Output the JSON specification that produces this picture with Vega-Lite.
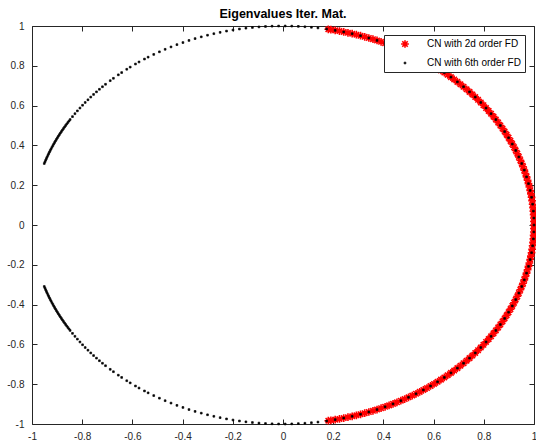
{
  "$schema": "https://vega.github.io/schema/vega-lite/v6.json",
  "width": 502,
  "height": 398,
  "autosize": {"type": "none"},
  "padding": {"left": 32, "top": 26, "right": 2, "bottom": 21},
  "background": "#ffffff",
  "title": {"text": "Eigenvalues Iter. Mat.", "font": "Liberation Sans", "fontSize": 12.5, "fontWeight": "bold", "color": "#000000", "anchor": "middle", "offset": 1},
  "config": {
    "view": {"stroke": null},
    "axis": {"domainColor": "#262626", "domainWidth": 1, "tickColor": "#262626", "tickWidth": 1, "tickSize": -5, "labelFont": "Liberation Sans", "labelFontSize": 10, "labelColor": "#262626", "grid": false, "title": null, "labelPadding": 12, "labelFlush": false, "labelOverlap": false}
  },
  "data": {"values": [
    {"s":"2d","x":1,"y":0},{"s":"2d","x":0.9998,"y":0.0175},{"s":"2d","x":0.9994,"y":0.0349},{"s":"2d","x":0.9986,"y":0.0523},{"s":"2d","x":0.9976,"y":0.0698},{"s":"2d","x":0.9962,"y":0.0872},{"s":"2d","x":0.9945,"y":0.1045},{"s":"2d","x":0.9925,"y":0.1219},{"s":"2d","x":0.9903,"y":0.1392},{"s":"2d","x":0.9877,"y":0.1564},
    {"s":"2d","x":0.9848,"y":0.1736},{"s":"2d","x":0.9816,"y":0.1908},{"s":"2d","x":0.9781,"y":0.2079},{"s":"2d","x":0.9744,"y":0.2250},{"s":"2d","x":0.9703,"y":0.2419},{"s":"2d","x":0.9659,"y":0.2588},{"s":"2d","x":0.9613,"y":0.2756},{"s":"2d","x":0.9563,"y":0.2924},{"s":"2d","x":0.9511,"y":0.3090},{"s":"2d","x":0.9455,"y":0.3256},
    {"s":"2d","x":0.9397,"y":0.3420},{"s":"2d","x":0.9336,"y":0.3584},{"s":"2d","x":0.9272,"y":0.3746},{"s":"2d","x":0.9205,"y":0.3907},{"s":"2d","x":0.9135,"y":0.4067},{"s":"2d","x":0.9063,"y":0.4226},{"s":"2d","x":0.8988,"y":0.4384},{"s":"2d","x":0.8910,"y":0.4540},{"s":"2d","x":0.8829,"y":0.4695},{"s":"2d","x":0.8746,"y":0.4848},
    {"s":"2d","x":0.8660,"y":0.5},{"s":"2d","x":0.8572,"y":0.5150},{"s":"2d","x":0.8480,"y":0.5299},{"s":"2d","x":0.8387,"y":0.5446},{"s":"2d","x":0.8290,"y":0.5592},{"s":"2d","x":0.8192,"y":0.5736},{"s":"2d","x":0.8090,"y":0.5878},{"s":"2d","x":0.7986,"y":0.6018},{"s":"2d","x":0.7880,"y":0.6157},{"s":"2d","x":0.7771,"y":0.6293},
    {"s":"2d","x":0.7660,"y":0.6428},{"s":"2d","x":0.7547,"y":0.6561},{"s":"2d","x":0.7431,"y":0.6691},{"s":"2d","x":0.7314,"y":0.6820},{"s":"2d","x":0.7193,"y":0.6947},{"s":"2d","x":0.7071,"y":0.7071},{"s":"2d","x":0.6947,"y":0.7193},{"s":"2d","x":0.6820,"y":0.7314},{"s":"2d","x":0.6691,"y":0.7431},{"s":"2d","x":0.6561,"y":0.7547},
    {"s":"2d","x":0.6428,"y":0.7660},{"s":"2d","x":0.6293,"y":0.7771},{"s":"2d","x":0.6157,"y":0.7880},{"s":"2d","x":0.6018,"y":0.7986},{"s":"2d","x":0.5878,"y":0.8090},{"s":"2d","x":0.5736,"y":0.8192},{"s":"2d","x":0.5592,"y":0.8290},{"s":"2d","x":0.5446,"y":0.8387},{"s":"2d","x":0.5299,"y":0.8480},{"s":"2d","x":0.5150,"y":0.8572},
    {"s":"2d","x":0.5,"y":0.8660},{"s":"2d","x":0.4848,"y":0.8746},{"s":"2d","x":0.4695,"y":0.8829},{"s":"2d","x":0.4540,"y":0.8910},{"s":"2d","x":0.4384,"y":0.8988},{"s":"2d","x":0.4226,"y":0.9063},{"s":"2d","x":0.4067,"y":0.9135},{"s":"2d","x":0.3907,"y":0.9205},{"s":"2d","x":0.3746,"y":0.9272},{"s":"2d","x":0.3584,"y":0.9336},
    {"s":"2d","x":0.3420,"y":0.9397},{"s":"2d","x":0.3256,"y":0.9455},{"s":"2d","x":0.3090,"y":0.9511},{"s":"2d","x":0.2924,"y":0.9563},{"s":"2d","x":0.2756,"y":0.9613},{"s":"2d","x":0.2588,"y":0.9659},{"s":"2d","x":0.2419,"y":0.9703},{"s":"2d","x":0.2250,"y":0.9744},{"s":"2d","x":0.2079,"y":0.9781},{"s":"2d","x":0.1908,"y":0.9816},{"s":"2d","x":0.1805,"y":0.9835},
    {"s":"2d","x":0.9998,"y":-0.0175},{"s":"2d","x":0.9994,"y":-0.0349},{"s":"2d","x":0.9986,"y":-0.0523},{"s":"2d","x":0.9976,"y":-0.0698},{"s":"2d","x":0.9962,"y":-0.0872},{"s":"2d","x":0.9945,"y":-0.1045},{"s":"2d","x":0.9925,"y":-0.1219},{"s":"2d","x":0.9903,"y":-0.1392},{"s":"2d","x":0.9877,"y":-0.1564},
    {"s":"2d","x":0.9848,"y":-0.1736},{"s":"2d","x":0.9816,"y":-0.1908},{"s":"2d","x":0.9781,"y":-0.2079},{"s":"2d","x":0.9744,"y":-0.2250},{"s":"2d","x":0.9703,"y":-0.2419},{"s":"2d","x":0.9659,"y":-0.2588},{"s":"2d","x":0.9613,"y":-0.2756},{"s":"2d","x":0.9563,"y":-0.2924},{"s":"2d","x":0.9511,"y":-0.3090},{"s":"2d","x":0.9455,"y":-0.3256},
    {"s":"2d","x":0.9397,"y":-0.3420},{"s":"2d","x":0.9336,"y":-0.3584},{"s":"2d","x":0.9272,"y":-0.3746},{"s":"2d","x":0.9205,"y":-0.3907},{"s":"2d","x":0.9135,"y":-0.4067},{"s":"2d","x":0.9063,"y":-0.4226},{"s":"2d","x":0.8988,"y":-0.4384},{"s":"2d","x":0.8910,"y":-0.4540},{"s":"2d","x":0.8829,"y":-0.4695},{"s":"2d","x":0.8746,"y":-0.4848},
    {"s":"2d","x":0.8660,"y":-0.5},{"s":"2d","x":0.8572,"y":-0.5150},{"s":"2d","x":0.8480,"y":-0.5299},{"s":"2d","x":0.8387,"y":-0.5446},{"s":"2d","x":0.8290,"y":-0.5592},{"s":"2d","x":0.8192,"y":-0.5736},{"s":"2d","x":0.8090,"y":-0.5878},{"s":"2d","x":0.7986,"y":-0.6018},{"s":"2d","x":0.7880,"y":-0.6157},{"s":"2d","x":0.7771,"y":-0.6293},
    {"s":"2d","x":0.7660,"y":-0.6428},{"s":"2d","x":0.7547,"y":-0.6561},{"s":"2d","x":0.7431,"y":-0.6691},{"s":"2d","x":0.7314,"y":-0.6820},{"s":"2d","x":0.7193,"y":-0.6947},{"s":"2d","x":0.7071,"y":-0.7071},{"s":"2d","x":0.6947,"y":-0.7193},{"s":"2d","x":0.6820,"y":-0.7314},{"s":"2d","x":0.6691,"y":-0.7431},{"s":"2d","x":0.6561,"y":-0.7547},
    {"s":"2d","x":0.6428,"y":-0.7660},{"s":"2d","x":0.6293,"y":-0.7771},{"s":"2d","x":0.6157,"y":-0.7880},{"s":"2d","x":0.6018,"y":-0.7986},{"s":"2d","x":0.5878,"y":-0.8090},{"s":"2d","x":0.5736,"y":-0.8192},{"s":"2d","x":0.5592,"y":-0.8290},{"s":"2d","x":0.5446,"y":-0.8387},{"s":"2d","x":0.5299,"y":-0.8480},{"s":"2d","x":0.5150,"y":-0.8572},
    {"s":"2d","x":0.5,"y":-0.8660},{"s":"2d","x":0.4848,"y":-0.8746},{"s":"2d","x":0.4695,"y":-0.8829},{"s":"2d","x":0.4540,"y":-0.8910},{"s":"2d","x":0.4384,"y":-0.8988},{"s":"2d","x":0.4226,"y":-0.9063},{"s":"2d","x":0.4067,"y":-0.9135},{"s":"2d","x":0.3907,"y":-0.9205},{"s":"2d","x":0.3746,"y":-0.9272},{"s":"2d","x":0.3584,"y":-0.9336},
    {"s":"2d","x":0.3420,"y":-0.9397},{"s":"2d","x":0.3256,"y":-0.9455},{"s":"2d","x":0.3090,"y":-0.9511},{"s":"2d","x":0.2924,"y":-0.9563},{"s":"2d","x":0.2756,"y":-0.9613},{"s":"2d","x":0.2588,"y":-0.9659},{"s":"2d","x":0.2419,"y":-0.9703},{"s":"2d","x":0.2250,"y":-0.9744},{"s":"2d","x":0.2079,"y":-0.9781},{"s":"2d","x":0.1908,"y":-0.9816},{"s":"2d","x":0.1805,"y":-0.9835},

    {"s":"6th","x":1,"y":0},{"s":"6th","x":0.9994,"y":0.0349},{"s":"6th","x":0.9976,"y":0.0698},{"s":"6th","x":0.9945,"y":0.1045},{"s":"6th","x":0.9903,"y":0.1392},{"s":"6th","x":0.9848,"y":0.1736},{"s":"6th","x":0.9781,"y":0.2079},{"s":"6th","x":0.9703,"y":0.2419},{"s":"6th","x":0.9613,"y":0.2756},{"s":"6th","x":0.9511,"y":0.3090},
    {"s":"6th","x":0.9397,"y":0.3420},{"s":"6th","x":0.9272,"y":0.3746},{"s":"6th","x":0.9135,"y":0.4067},{"s":"6th","x":0.8988,"y":0.4384},{"s":"6th","x":0.8829,"y":0.4695},{"s":"6th","x":0.8660,"y":0.5},{"s":"6th","x":0.8480,"y":0.5299},{"s":"6th","x":0.8290,"y":0.5592},{"s":"6th","x":0.8090,"y":0.5878},{"s":"6th","x":0.7880,"y":0.6157},
    {"s":"6th","x":0.7660,"y":0.6428},{"s":"6th","x":0.7431,"y":0.6691},{"s":"6th","x":0.7193,"y":0.6947},{"s":"6th","x":0.6947,"y":0.7193},{"s":"6th","x":0.6691,"y":0.7431},{"s":"6th","x":0.6428,"y":0.7660},{"s":"6th","x":0.6157,"y":0.7880},{"s":"6th","x":0.5878,"y":0.8090},{"s":"6th","x":0.5592,"y":0.8290},{"s":"6th","x":0.5299,"y":0.8480},
    {"s":"6th","x":0.5,"y":0.8660},{"s":"6th","x":0.4695,"y":0.8829},{"s":"6th","x":0.4384,"y":0.8988},{"s":"6th","x":0.4067,"y":0.9135},{"s":"6th","x":0.3746,"y":0.9272},{"s":"6th","x":0.3420,"y":0.9397},{"s":"6th","x":0.3090,"y":0.9511},{"s":"6th","x":0.2756,"y":0.9613},{"s":"6th","x":0.2419,"y":0.9703},{"s":"6th","x":0.2079,"y":0.9781},
    {"s":"6th","x":0.1736,"y":0.9848},{"s":"6th","x":0.1392,"y":0.9903},{"s":"6th","x":0.1132,"y":0.9935},{"s":"6th","x":0.0872,"y":0.9962},{"s":"6th","x":0.0611,"y":0.9981},{"s":"6th","x":0.0349,"y":0.9994},{"s":"6th","x":0.0087,"y":1},{"s":"6th","x":-0.0175,"y":0.9998},{"s":"6th","x":-0.0436,"y":0.9990},{"s":"6th","x":-0.0698,"y":0.9976},
    {"s":"6th","x":-0.0958,"y":0.9954},{"s":"6th","x":-0.1219,"y":0.9925},{"s":"6th","x":-0.1478,"y":0.9890},{"s":"6th","x":-0.1736,"y":0.9848},{"s":"6th","x":-0.1994,"y":0.9799},{"s":"6th","x":-0.2250,"y":0.9744},{"s":"6th","x":-0.2504,"y":0.9681},{"s":"6th","x":-0.2756,"y":0.9613},{"s":"6th","x":-0.3007,"y":0.9537},{"s":"6th","x":-0.3256,"y":0.9455},
    {"s":"6th","x":-0.3502,"y":0.9367},{"s":"6th","x":-0.3746,"y":0.9272},{"s":"6th","x":-0.3987,"y":0.9170},{"s":"6th","x":-0.4226,"y":0.9063},{"s":"6th","x":-0.4462,"y":0.8949},{"s":"6th","x":-0.4695,"y":0.8829},{"s":"6th","x":-0.4924,"y":0.8703},{"s":"6th","x":-0.5150,"y":0.8572},{"s":"6th","x":-0.5373,"y":0.8434},{"s":"6th","x":-0.5519,"y":0.8339},
    {"s":"6th","x":-0.5736,"y":0.8192},{"s":"6th","x":-0.5878,"y":0.8090},{"s":"6th","x":-0.6087,"y":0.7933},{"s":"6th","x":-0.6225,"y":0.7826},{"s":"6th","x":-0.6428,"y":0.7660},{"s":"6th","x":-0.6561,"y":0.7547},{"s":"6th","x":-0.6756,"y":0.7372},{"s":"6th","x":-0.6883,"y":0.7253},{"s":"6th","x":-0.7071,"y":0.7071},{"s":"6th","x":-0.7193,"y":0.6947},
    {"s":"6th","x":-0.7314,"y":0.6820},{"s":"6th","x":-0.7431,"y":0.6691},{"s":"6th","x":-0.7547,"y":0.6561},{"s":"6th","x":-0.7660,"y":0.6428},{"s":"6th","x":-0.7771,"y":0.6293},{"s":"6th","x":-0.7880,"y":0.6157},{"s":"6th","x":-0.7986,"y":0.6018},{"s":"6th","x":-0.8090,"y":0.5878},{"s":"6th","x":-0.8192,"y":0.5736},{"s":"6th","x":-0.8290,"y":0.5592},
    {"s":"6th","x":-0.8387,"y":0.5446},{"s":"6th","x":-0.8480,"y":0.5299},{"s":"6th","x":-0.8526,"y":0.5225},{"s":"6th","x":-0.8572,"y":0.5150},{"s":"6th","x":-0.8616,"y":0.5075},{"s":"6th","x":-0.8660,"y":0.5},{"s":"6th","x":-0.8703,"y":0.4924},{"s":"6th","x":-0.8746,"y":0.4848},{"s":"6th","x":-0.8788,"y":0.4771},{"s":"6th","x":-0.8829,"y":0.4695},
    {"s":"6th","x":-0.8870,"y":0.4617},{"s":"6th","x":-0.8910,"y":0.4540},{"s":"6th","x":-0.8949,"y":0.4462},{"s":"6th","x":-0.8988,"y":0.4384},{"s":"6th","x":-0.9026,"y":0.4305},{"s":"6th","x":-0.9063,"y":0.4226},{"s":"6th","x":-0.9099,"y":0.4147},{"s":"6th","x":-0.9135,"y":0.4067},{"s":"6th","x":-0.9170,"y":0.3987},{"s":"6th","x":-0.9205,"y":0.3907},
    {"s":"6th","x":-0.9238,"y":0.3827},{"s":"6th","x":-0.9272,"y":0.3746},{"s":"6th","x":-0.9304,"y":0.3665},{"s":"6th","x":-0.9336,"y":0.3584},{"s":"6th","x":-0.9366,"y":0.3502},{"s":"6th","x":-0.9397,"y":0.3420},{"s":"6th","x":-0.9426,"y":0.3338},{"s":"6th","x":-0.9455,"y":0.3256},{"s":"6th","x":-0.9483,"y":0.3173},{"s":"6th","x":-0.9511,"y":0.3090},

    {"s":"6th","x":0.9994,"y":-0.0349},{"s":"6th","x":0.9976,"y":-0.0698},{"s":"6th","x":0.9945,"y":-0.1045},{"s":"6th","x":0.9903,"y":-0.1392},{"s":"6th","x":0.9848,"y":-0.1736},{"s":"6th","x":0.9781,"y":-0.2079},{"s":"6th","x":0.9703,"y":-0.2419},{"s":"6th","x":0.9613,"y":-0.2756},{"s":"6th","x":0.9511,"y":-0.3090},
    {"s":"6th","x":0.9397,"y":-0.3420},{"s":"6th","x":0.9272,"y":-0.3746},{"s":"6th","x":0.9135,"y":-0.4067},{"s":"6th","x":0.8988,"y":-0.4384},{"s":"6th","x":0.8829,"y":-0.4695},{"s":"6th","x":0.8660,"y":-0.5},{"s":"6th","x":0.8480,"y":-0.5299},{"s":"6th","x":0.8290,"y":-0.5592},{"s":"6th","x":0.8090,"y":-0.5878},{"s":"6th","x":0.7880,"y":-0.6157},
    {"s":"6th","x":0.7660,"y":-0.6428},{"s":"6th","x":0.7431,"y":-0.6691},{"s":"6th","x":0.7193,"y":-0.6947},{"s":"6th","x":0.6947,"y":-0.7193},{"s":"6th","x":0.6691,"y":-0.7431},{"s":"6th","x":0.6428,"y":-0.7660},{"s":"6th","x":0.6157,"y":-0.7880},{"s":"6th","x":0.5878,"y":-0.8090},{"s":"6th","x":0.5592,"y":-0.8290},{"s":"6th","x":0.5299,"y":-0.8480},
    {"s":"6th","x":0.5,"y":-0.8660},{"s":"6th","x":0.4695,"y":-0.8829},{"s":"6th","x":0.4384,"y":-0.8988},{"s":"6th","x":0.4067,"y":-0.9135},{"s":"6th","x":0.3746,"y":-0.9272},{"s":"6th","x":0.3420,"y":-0.9397},{"s":"6th","x":0.3090,"y":-0.9511},{"s":"6th","x":0.2756,"y":-0.9613},{"s":"6th","x":0.2419,"y":-0.9703},{"s":"6th","x":0.2079,"y":-0.9781},
    {"s":"6th","x":0.1736,"y":-0.9848},{"s":"6th","x":0.1392,"y":-0.9903},{"s":"6th","x":0.1132,"y":-0.9935},{"s":"6th","x":0.0872,"y":-0.9962},{"s":"6th","x":0.0611,"y":-0.9981},{"s":"6th","x":0.0349,"y":-0.9994},{"s":"6th","x":0.0087,"y":-1},{"s":"6th","x":-0.0175,"y":-0.9998},{"s":"6th","x":-0.0436,"y":-0.9990},{"s":"6th","x":-0.0698,"y":-0.9976},
    {"s":"6th","x":-0.0958,"y":-0.9954},{"s":"6th","x":-0.1219,"y":-0.9925},{"s":"6th","x":-0.1478,"y":-0.9890},{"s":"6th","x":-0.1736,"y":-0.9848},{"s":"6th","x":-0.1994,"y":-0.9799},{"s":"6th","x":-0.2250,"y":-0.9744},{"s":"6th","x":-0.2504,"y":-0.9681},{"s":"6th","x":-0.2756,"y":-0.9613},{"s":"6th","x":-0.3007,"y":-0.9537},{"s":"6th","x":-0.3256,"y":-0.9455},
    {"s":"6th","x":-0.3502,"y":-0.9367},{"s":"6th","x":-0.3746,"y":-0.9272},{"s":"6th","x":-0.3987,"y":-0.9170},{"s":"6th","x":-0.4226,"y":-0.9063},{"s":"6th","x":-0.4462,"y":-0.8949},{"s":"6th","x":-0.4695,"y":-0.8829},{"s":"6th","x":-0.4924,"y":-0.8703},{"s":"6th","x":-0.5150,"y":-0.8572},{"s":"6th","x":-0.5373,"y":-0.8434},{"s":"6th","x":-0.5519,"y":-0.8339},
    {"s":"6th","x":-0.5736,"y":-0.8192},{"s":"6th","x":-0.5878,"y":-0.8090},{"s":"6th","x":-0.6087,"y":-0.7933},{"s":"6th","x":-0.6225,"y":-0.7826},{"s":"6th","x":-0.6428,"y":-0.7660},{"s":"6th","x":-0.6561,"y":-0.7547},{"s":"6th","x":-0.6756,"y":-0.7372},{"s":"6th","x":-0.6883,"y":-0.7253},{"s":"6th","x":-0.7071,"y":-0.7071},{"s":"6th","x":-0.7193,"y":-0.6947},
    {"s":"6th","x":-0.7314,"y":-0.6820},{"s":"6th","x":-0.7431,"y":-0.6691},{"s":"6th","x":-0.7547,"y":-0.6561},{"s":"6th","x":-0.7660,"y":-0.6428},{"s":"6th","x":-0.7771,"y":-0.6293},{"s":"6th","x":-0.7880,"y":-0.6157},{"s":"6th","x":-0.7986,"y":-0.6018},{"s":"6th","x":-0.8090,"y":-0.5878},{"s":"6th","x":-0.8192,"y":-0.5736},{"s":"6th","x":-0.8290,"y":-0.5592},
    {"s":"6th","x":-0.8387,"y":-0.5446},{"s":"6th","x":-0.8480,"y":-0.5299},{"s":"6th","x":-0.8526,"y":-0.5225},{"s":"6th","x":-0.8572,"y":-0.5150},{"s":"6th","x":-0.8616,"y":-0.5075},{"s":"6th","x":-0.8660,"y":-0.5},{"s":"6th","x":-0.8703,"y":-0.4924},{"s":"6th","x":-0.8746,"y":-0.4848},{"s":"6th","x":-0.8788,"y":-0.4771},{"s":"6th","x":-0.8829,"y":-0.4695},
    {"s":"6th","x":-0.8870,"y":-0.4617},{"s":"6th","x":-0.8910,"y":-0.4540},{"s":"6th","x":-0.8949,"y":-0.4462},{"s":"6th","x":-0.8988,"y":-0.4384},{"s":"6th","x":-0.9026,"y":-0.4305},{"s":"6th","x":-0.9063,"y":-0.4226},{"s":"6th","x":-0.9099,"y":-0.4147},{"s":"6th","x":-0.9135,"y":-0.4067},{"s":"6th","x":-0.9170,"y":-0.3987},{"s":"6th","x":-0.9205,"y":-0.3907},
    {"s":"6th","x":-0.9238,"y":-0.3827},{"s":"6th","x":-0.9272,"y":-0.3746},{"s":"6th","x":-0.9304,"y":-0.3665},{"s":"6th","x":-0.9336,"y":-0.3584},{"s":"6th","x":-0.9366,"y":-0.3502},{"s":"6th","x":-0.9397,"y":-0.3420},{"s":"6th","x":-0.9426,"y":-0.3338},{"s":"6th","x":-0.9455,"y":-0.3256},{"s":"6th","x":-0.9483,"y":-0.3173},{"s":"6th","x":-0.9511,"y":-0.3090}
  ]},
  "layer": [
    {
      "mark": {"type": "point", "filled": true, "opacity": 1},
      "encoding": {
        "x": {"field": "x", "type": "quantitative", "scale": {"domain": [-1, 1], "nice": false, "zero": false},
              "axis": {"orient": "bottom", "values": [-1, -0.8, -0.6, -0.4, -0.2, 0, 0.2, 0.4, 0.6, 0.8, 1], "labelPadding": 12,
                       "labelExpr": "datum.value < 0 ? '-' + format(-datum.value, '~g') : format(datum.value, '~g')"}},
        "y": {"field": "y", "type": "quantitative", "scale": {"domain": [-1, 1], "nice": false, "zero": false},
              "axis": {"orient": "left", "values": [-1, -0.8, -0.6, -0.4, -0.2, 0, 0.2, 0.4, 0.6, 0.8, 1], "labelPadding": 13,
                       "labelExpr": "datum.value < 0 ? '-' + format(-datum.value, '~g') : format(datum.value, '~g')"}},
        "fill": {"field": "s", "type": "nominal", "scale": {"domain": ["2d", "6th"], "range": ["#ff0000", "#000000"]},
                 "legend": {"title": null, "orient": "top-right", "offset": 9, "strokeColor": "#262626", "fillColor": "#ffffff", "padding": 4, "symbolOffset": 12, "labelOffset": 17, "rowPadding": 6, "labelFont": "Liberation Sans", "labelFontSize": 10, "labelColor": "#000000", "labelLimit": 200, "labelExpr": "'CN with ' + datum.label + ' order FD'"}},
        "stroke": {"field": "s", "type": "nominal", "scale": {"domain": ["2d", "6th"], "range": ["#ff0000", "#000000"]},
                 "legend": {"title": null, "orient": "top-right", "offset": 9, "strokeColor": "#262626", "fillColor": "#ffffff", "padding": 4, "symbolOffset": 12, "labelOffset": 17, "rowPadding": 6, "labelFont": "Liberation Sans", "labelFontSize": 10, "labelColor": "#000000", "labelLimit": 200, "labelExpr": "'CN with ' + datum.label + ' order FD'"}},
        "shape": {"field": "s", "type": "nominal", "scale": {"domain": ["2d", "6th"], "range": ["M-1,0L1,0M0,-1L0,1M-0.7,-0.7L0.7,0.7M-0.7,0.7L0.7,-0.7", "square"]},
                 "legend": {"title": null, "orient": "top-right", "offset": 9, "strokeColor": "#262626", "fillColor": "#ffffff", "padding": 4, "symbolOffset": 12, "labelOffset": 17, "rowPadding": 6, "labelFont": "Liberation Sans", "labelFontSize": 10, "labelColor": "#000000", "labelLimit": 200, "labelExpr": "'CN with ' + datum.label + ' order FD'"}},
        "size": {"field": "s", "type": "ordinal", "scale": {"domain": ["2d", "6th"], "range": [60, 3]},
                 "legend": {"title": null, "orient": "top-right", "offset": 9, "strokeColor": "#262626", "fillColor": "#ffffff", "padding": 4, "symbolOffset": 12, "labelOffset": 17, "rowPadding": 6, "labelFont": "Liberation Sans", "labelFontSize": 10, "labelColor": "#000000", "labelLimit": 200, "labelExpr": "'CN with ' + datum.label + ' order FD'"}},
        "strokeWidth": {"field": "s", "type": "ordinal", "scale": {"domain": ["2d", "6th"], "range": [1.6, 0.7]},
                 "legend": {"title": null, "orient": "top-right", "offset": 9, "strokeColor": "#262626", "fillColor": "#ffffff", "padding": 4, "symbolOffset": 12, "labelOffset": 17, "rowPadding": 6, "labelFont": "Liberation Sans", "labelFontSize": 10, "labelColor": "#000000", "labelLimit": 200, "labelExpr": "'CN with ' + datum.label + ' order FD'"}}
      }
    },
    {
      "transform": [{"filter": "datum.s == '2d' && datum.y == 0"}],
      "mark": {"type": "point", "opacity": 0},
      "encoding": {
        "x": {"field": "x", "type": "quantitative", "axis": {"orient": "top", "labels": false, "values": [-1, -0.8, -0.6, -0.4, -0.2, 0, 0.2, 0.4, 0.6, 0.8, 1]}},
        "y": {"field": "y", "type": "quantitative", "axis": {"orient": "right", "labels": false, "values": [-1, -0.8, -0.6, -0.4, -0.2, 0, 0.2, 0.4, 0.6, 0.8, 1]}}
      }
    }
  ],
  "resolve": {"axis": {"x": "independent", "y": "independent"}}
}
